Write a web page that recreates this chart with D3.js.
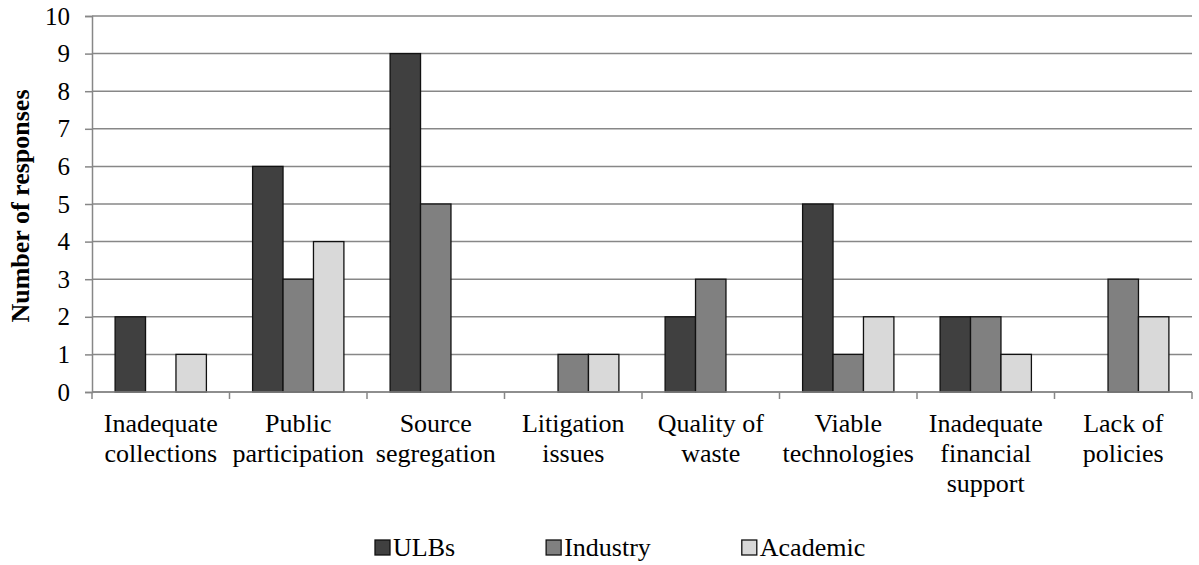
<!DOCTYPE html>
<html>
<head>
<meta charset="utf-8">
<script src="https://cdn.jsdelivr.net/npm/d3@7"></script>
<style>
  html, body { margin: 0; padding: 0; background: #fff; }
  svg { display: block; }
  svg text { font-family: 'Liberation Serif', 'Times New Roman', Times, 'DejaVu Serif', serif; }
</style>
</head>
<body>
<svg id="chart" width="1199" height="565"></svg>
<script>
const categories = [
  ["Inadequate", "collections"],
  ["Public", "participation"],
  ["Source", "segregation"],
  ["Litigation", "issues"],
  ["Quality of", "waste"],
  ["Viable", "technologies"],
  ["Inadequate", "financial", "support"],
  ["Lack of", "policies"]
];
const seriesNames = ["ULBs", "Industry", "Academic"];
const ulbs     = [2, 6, 9, 0, 2, 5, 2, 0];
const industry = [0, 3, 5, 1, 3, 1, 2, 3];
const academic = [1, 4, 0, 1, 0, 2, 1, 2];
const yTicks = [0, 1, 2, 3, 4, 5, 6, 7, 8, 9, 10];
const colors = ["#404040", "#808080", "#d9d9d9"];

(function () {
const FONT = "'Liberation Serif', 'Times New Roman', Times, 'DejaVu Serif', serif";
const seriesValues = [ulbs, industry, academic];
const svg = d3.select("#chart").attr("font-family", FONT);
const mLeft = 92, mRight = 1192, mTop = 16, mBottom = 392;

const x0 = d3.scaleBand().domain(d3.range(categories.length)).range([mLeft, mRight]).padding(0);
const bw = x0.bandwidth();
const x1 = d3.scaleBand().domain(seriesNames).range([bw * 0.168, bw * (1 - 0.168)]).padding(0);
const y = d3.scaleLinear().domain([0, 10]).range([mBottom, mTop]);

const gridColor = "#878787";

// gridlines
svg.append("g").selectAll("line").data(yTicks).join("line")
  .attr("x1", mLeft).attr("x2", mRight)
  .attr("y1", d => y(d)).attr("y2", d => y(d))
  .attr("stroke", gridColor).attr("stroke-width", 1.5);

// y axis
const yAxis = d3.axisLeft(y).tickValues(yTicks).tickSize(7).tickPadding(15).tickFormat(d3.format("d"));
const gy = svg.append("g").attr("transform", `translate(${mLeft},0)`).call(yAxis);
gy.attr("font-family", FONT);
gy.select(".domain").attr("stroke", gridColor).attr("stroke-width", 1.5);
gy.selectAll(".tick line").attr("stroke", gridColor).attr("stroke-width", 1.5);
gy.selectAll(".tick text").attr("font-size", 25).attr("fill", "#000")
  .attr("font-family", FONT);

// bars
const groups = svg.append("g").selectAll("g").data(categories).join("g")
  .attr("transform", (d, i) => `translate(${x0(i)},0)`);
groups.selectAll("rect")
  .data((d, i) => seriesNames.map((s, k) => ({ s, k, v: seriesValues[k][i] })).filter(e => e.v > 0))
  .join("rect")
  .attr("x", e => x1(e.s))
  .attr("width", x1.bandwidth())
  .attr("y", e => y(e.v))
  .attr("height", e => y(0) - y(e.v))
  .attr("fill", e => colors[e.k])
  .attr("stroke", "#111")
  .attr("stroke-width", 1.3);

// x axis line and ticks
const xAxisG = svg.append("g");
xAxisG.append("line").attr("x1", mLeft).attr("x2", mRight)
  .attr("y1", mBottom).attr("y2", mBottom)
  .attr("stroke", gridColor).attr("stroke-width", 1.5);
const bounds = d3.range(categories.length + 1).map(i => mLeft + i * bw);
xAxisG.selectAll("line.tk").data(bounds).join("line").attr("class", "tk")
  .attr("x1", d => d).attr("x2", d => d)
  .attr("y1", mBottom).attr("y2", mBottom + 7)
  .attr("stroke", gridColor).attr("stroke-width", 1.5);

// category labels
const catLabels = svg.append("g").selectAll("text").data(categories).join("text")
  .attr("text-anchor", "middle")
  .attr("font-family", FONT)
  .attr("font-size", 26)
  .attr("fill", "#000");
catLabels.each(function(d, i) {
  const t = d3.select(this);
  d.forEach((line, j) => {
    t.append("tspan").attr("x", x0(i) + bw / 2).attr("y", 432 + j * 30).text(line);
  });
});

// y title
svg.append("text")
  .attr("transform", `translate(29,${(mTop + mBottom) / 2 + 2}) rotate(-90)`)
  .attr("text-anchor", "middle")
  .attr("font-family", FONT)
  .attr("font-size", 26).attr("font-weight", "bold").attr("fill", "#000")
  .text("Number of responses");

// legend
const legend = svg.append("g");
let lx = 375;
seriesNames.forEach((s, k) => {
  legend.append("rect").attr("x", lx).attr("y", 540).attr("width", 15).attr("height", 15)
    .attr("fill", colors[k]).attr("stroke", "#111").attr("stroke-width", 1.3);
  const t = legend.append("text").attr("x", lx + 18).attr("y", 556)
    .attr("font-family", FONT)
    .attr("font-size", 26).attr("fill", "#000").text(s);
  const w = t.node().getComputedTextLength();
  lx = lx + 18 + w + 91;
});
})();
</script>
</body>
</html>
